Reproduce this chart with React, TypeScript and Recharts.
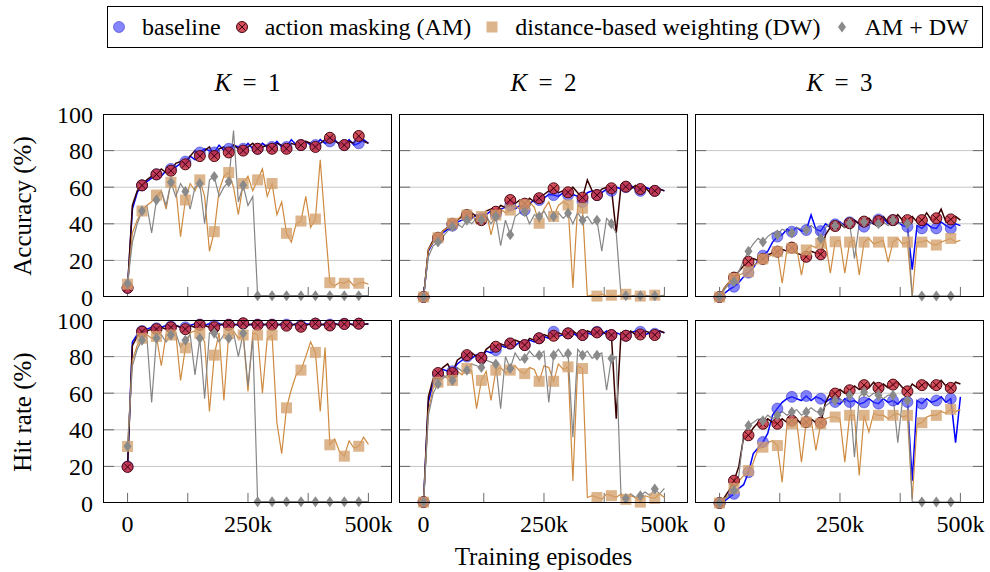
import React from 'react'
import { LineChart, Line, XAxis, YAxis, ReferenceLine } from 'recharts'

const FONT = '"Liberation Serif", Tinos, "Times New Roman", "Nimbus Roman", "DejaVu Serif", serif'

// x grid: one sample every 10k episodes, marks every 30k
const episodes = Array.from({ length: 51 }, (_, i) => i * 10000)
const MARK_EVERY = 3
const LAST_MARK = 48
const xLabelTicks = [0, 250000, 500000]
const xTickMarks = [0, 125000, 250000, 375000, 500000]
const yTicks = [0, 20, 40, 60, 80, 100]
const yGrid = [20, 40, 60, 80]
const kValues = [1, 2, 3]
const rowLabels = ['Accuracy (%)', 'Hit rate (%)']

// ---- accuracy, K = 1
const acc1Base = [5, 48, 57, 61, 63, 65, 67, 66, 69, 70, 71, 73, 74, 77, 75, 79, 81, 80, 79, 83, 80, 81, 83, 82, 81, 84, 81, 81, 84, 82, 82, 85, 82, 82, 86, 83, 83, 85, 83, 83, 86, 84, 85, 86, 83, 83, 86, 83, 84, 86, 84]
const acc1AM = [5, 50, 58, 61, 64, 66, 67, 70, 68, 69, 73, 74, 72.5, 77, 80, 77, 80, 82, 77, 81, 82, 79, 83, 81, 80, 82, 84, 81, 82, 83, 81, 84, 83, 81, 84, 83, 83, 85, 84, 82, 84, 86, 87, 85, 84, 83, 85, 84, 88, 85, 84]
const acc1DW = [7, 35, 42, 47, 50, 52, 55.7, 58, 48, 62.7, 60, 33, 53, 62, 58, 64, 55, 25, 35.7, 58, 66, 68, 60, 45, 62, 66, 58, 64, 70, 55, 62, 45, 52, 34.8, 30, 40, 41.5, 55, 38, 42.6, 75, 40, 7.8, 6, 8, 7.5, 9, 6, 7.5, 8, 7]
const acc1Both = [7.5, 30, 40, 47, 50, 35, 53, 58, 50, 62.7, 55, 62, 57.6, 48, 60, 62, 40, 64, 65.8, 55, 60, 63, 91, 52, 61, 50, 55, 0.7, 0.7, 0.7, 0.7, 0.7, 0.7, 0.7, 0.7, 0.7, 0.7, 0.7, 0.7, 0.7, 0.7, 0.7, 0.7, 0.7, 0.7, 0.7, 0.7, 0.7, 0.7, 0.7, 0.7]

// ---- accuracy, K = 2
const acc2Base = [0, 25, 30, 32, 35, 37, 39, 41, 42, 44, 43, 45, 43, 45, 47, 45, 48, 49, 50, 48, 50, 47.5, 51, 53, 53, 54, 56, 55.7, 55, 57, 55.7, 56, 55, 52, 57, 58, 55.7, 57, 59, 58, 60, 59, 60, 61, 59, 58, 60, 59, 58, 59, 58]
const acc2AM = [0, 26, 31, 32.4, 36, 38, 40, 42, 44, 44.8, 46, 44, 42, 47, 48, 46.6, 50, 49, 53, 51, 53, 51, 54, 52, 54, 56, 58, 59.4, 57, 58, 57.2, 60, 57, 54.3, 64, 58, 55.7, 59, 60, 59.4, 35, 61, 60.3, 59, 61, 59, 60, 57, 58, 59, 58]
const acc2DW = [0, 26, 30, 32.4, 36, 38, 40.3, 42, 45, 44.8, 46, 40, 44, 47, 34, 44.8, 48, 46, 47.5, 50, 48, 50.3, 52, 49, 40.3, 48, 52, 44, 50, 52, 50.3, 5, 50, 48.5, 0.5, 1, 0.5, 1.5, 0.5, 1, 0.5, 1, 1.5, 0.5, 1, 0.5, 1, 0.5, 1, 0.5, 1]
const acc2Both = [0, 22, 28, 30, 33, 36, 38.4, 40, 38, 42, 40, 43, 42, 44, 40, 44, 28, 42, 34, 44, 46, 46.6, 40, 45, 44, 47, 42, 44, 46, 43, 45.7, 40, 46, 42, 44, 40, 42, 25, 43, 40, 35, 0.7, 0.7, 0.7, 0.7, 0.7, 0.7, 0.7, 0.7, 0.7, 0.7]

// ---- accuracy, K = 3
const acc3Base = [0, 2, 4, 5.6, 8, 11, 13.3, 16, 20, 22.6, 25, 30, 33, 34, 37, 35.7, 38, 36, 36.6, 44.8, 37, 36, 40, 38, 39.7, 41, 39, 40.8, 42, 40, 38.4, 41, 40, 42.4, 43, 40, 42, 41, 39, 38.4, 15, 39, 37.5, 40, 38, 37.5, 41, 39, 37.5, 40, 39]
const acc3AM = [0, 5, 8, 10.6, 14, 17, 19.3, 21, 20, 20.8, 23, 24, 24.8, 26, 25, 27, 24, 23, 22, 25, 24, 23.3, 34, 38, 38.8, 40, 38, 40.3, 42, 40, 41.2, 43, 40, 41.5, 44, 41, 42, 45, 42, 42, 44, 41, 42, 46, 42, 43, 48, 41, 42.4, 44, 42]
const acc3DW = [0, 5, 8, 10.2, 12, 13, 13.8, 17, 19, 20.8, 22, 23, 24.8, 7.5, 26, 26.6, 27, 12, 25.7, 28, 27, 29.3, 30, 13, 30.2, 31, 13, 30, 31, 12, 30, 32, 29, 30, 31, 19, 30, 32, 29, 30, 0, 30, 30, 31, 29, 28.4, 30, 31, 32, 30, 31]
const acc3Both = [0, 4, 7, 8.4, 14, 20, 25, 29, 32, 30, 33, 35, 34, 37, 36, 35, 38, 37, 36.6, 39, 37, 32, 38, 40, 39, 41, 38, 40.3, 21, 40, 41, 39, 42, 40, 41, 39, 42, 40, 41, 40, 0.5, 0.5, 0.5, 0.5, 0.5, 0.5, 0.5, 0.5, 0.5, 0.5, 0.5]

// ---- hit rate, K = 1
const hit1Base = [20, 88, 92, 94, 95, 96, 95.5, 96, 97, 96.5, 97, 96, 96, 97, 98, 97.5, 97, 98, 97, 98, 97, 97.5, 98, 97, 98, 98, 97, 97.5, 98, 97, 97.5, 98, 97, 97.5, 98, 97, 97, 98, 97.5, 98, 98, 97, 97.5, 98, 97.5, 98, 98, 97.5, 98, 97.5, 98]
const hit1AM = [19.7, 86, 91, 93.6, 94, 95, 95, 96, 95, 96, 97, 96, 95, 97, 96, 97.3, 97, 96, 96, 97, 98, 97.3, 97, 98, 98.2, 97, 98, 97.3, 97, 98, 97.3, 97, 98, 96.9, 97, 98, 96.3, 97, 98, 98, 97, 98, 97, 98, 97, 97.8, 98, 97, 98, 97.5, 98]
const hit1DW = [30.9, 78, 86, 90, 92, 90, 91, 75, 92, 91.8, 93, 67, 84.8, 93, 94, 92.7, 88, 50, 80.8, 93, 56, 92.7, 94, 90, 91.8, 61, 93, 91.8, 60, 90, 91.8, 44, 27, 52, 62, 70, 72.6, 80, 88, 82.3, 50, 85, 31.8, 35, 28, 25.6, 34, 30, 31, 36, 32]
const hit1Both = [31, 75, 84, 89, 91, 55, 90, 92, 88, 91.8, 93, 85, 89, 92, 70, 90, 57, 93, 92.7, 88, 92, 90, 93, 80, 92.7, 64, 90, 0.7, 0.7, 0.7, 0.7, 0.7, 0.7, 0.7, 0.7, 0.7, 0.7, 0.7, 0.7, 0.7, 0.7, 0.7, 0.7, 0.7, 0.7, 0.7, 0.7, 0.7, 0.7, 0.7, 0.7]

// ---- hit rate, K = 2
const hit2Base = [0.5, 55, 66, 70, 73, 72, 72, 76, 78, 80, 79, 81, 79.3, 83, 82, 83.5, 86, 85, 87, 86, 88, 86.3, 89, 88, 90, 91, 90, 93.6, 91, 92, 92.7, 93, 91, 91.8, 93, 92, 93.6, 92, 94, 91.8, 93, 92, 91.4, 93, 94, 93.6, 92, 93, 92.5, 94, 93]
const hit2AM = [0.5, 58, 68, 71, 74, 76, 71, 78, 80, 80.8, 82, 80, 79.3, 84, 86, 85.4, 87, 86, 87.2, 89, 88, 86.3, 90, 89, 90, 92, 91, 91.4, 93, 92, 92.7, 94, 92, 91.8, 94, 93, 93.2, 94, 92, 91.8, 46, 93, 91.4, 94, 92, 92.1, 94, 93, 91.8, 94, 93]
const hit2DW = [0.5, 50, 63, 66, 70, 68, 67, 72, 70, 73.5, 72, 51.6, 67, 72, 56, 72.6, 74, 71, 72.6, 75, 72, 70.7, 74, 73, 66.5, 75, 74, 66.5, 76, 73, 74.4, 12, 75, 73.5, 3, 4, 3, 2, 5, 4, 3, 5, 2, 4, 3, 0.5, 4, 3, 2.5, 5, 3]
const hit2Both = [0.5, 48, 60, 65, 68, 70, 67, 74, 72, 72.6, 76, 75, 74, 78, 77, 76, 51.6, 80, 73.5, 82, 78, 79, 83, 80, 80.8, 83, 55, 80.8, 84, 80, 81.7, 36, 84, 80.8, 83, 79, 80.8, 82, 61.6, 79, 80, 3, 2.5, 5, 3, 4, 6, 4, 7.7, 5, 8]

// ---- hit rate, K = 3
const hit3Base = [0, 1, 3, 5, 8, 10, 16.8, 27, 30, 33.3, 38, 48, 51.6, 55, 57, 58, 57, 56, 58.5, 56, 58, 57, 55, 57, 55.2, 54, 57, 55.2, 56, 54, 55, 57, 55, 54.3, 57, 55, 56, 54, 57, 55.2, 12.2, 56, 54.3, 57, 55, 56, 58, 55, 57, 33, 58]
const hit3AM = [0, 3, 7, 12.2, 20, 36, 37, 41, 44, 43.3, 46, 44, 43.3, 46, 44, 45, 46, 43, 44.2, 46, 44, 43.9, 55, 60, 59.8, 62, 60, 61.6, 64, 62, 64.4, 63, 66, 62.9, 65, 63, 64.7, 66, 63, 61, 65, 63, 64.4, 66, 63, 64.4, 67, 64, 62.9, 66, 65]
const hit3DW = [0, 2, 5, 8, 12, 15, 17.7, 22, 29.6, 30.5, 33, 34, 31.4, 11.3, 43, 43.3, 45, 22.3, 44.2, 46, 28.7, 43.3, 46, 47, 47, 46, 22.3, 47.9, 48, 15, 47.9, 38.8, 49, 47.9, 48, 46, 47.9, 49, 47, 47.9, 2.2, 43, 43.9, 47, 48, 47.9, 50, 49, 51.2, 50, 51]
const hit3Both = [0, 2, 4, 6.8, 15, 37.8, 42.4, 44, 46, 45, 48, 46, 47.9, 50, 48, 49.7, 51, 48, 49.7, 52, 50, 49.7, 53, 55, 56, 57, 55, 58.9, 25, 58, 60.7, 58, 60, 58.9, 57, 59, 58.9, 33, 57, 56, 0.5, 0.5, 0.5, 0.5, 0.5, 0.5, 0.5, 0.5, 0.5, 0.5, 0.5]

// layout of the six plot boxes
const PLOT_LEFT = [103, 399, 695]
const PLOT_TOP = [114, 320]
const PLOT_W = 289
const PLOT_H = 183
const X_DOMAIN: [number, number] = [-51000, 549000]
const Y_TICK_LEN = 23000 // ~11px in episodes
const X_TICK_LEN = 5.5 // ~10px in percent
const PAD = 15

type MarkProps = { cx: number; cy: number }

const BaseMark = ({ cx, cy }: MarkProps) => (
  <circle cx={cx} cy={cy} r={5.5} fill="#3434ff" fillOpacity={0.6} stroke="#2020c0" strokeOpacity={0.5} />
)
const AmMark = ({ cx, cy }: MarkProps) => (
  <g>
    <circle cx={cx} cy={cy} r={5.5} fill="#cc3040" fillOpacity={0.85} stroke="#4a0812" strokeWidth={1} />
    <path
      d={`M${cx - 3.6},${cy - 3.6}L${cx + 3.6},${cy + 3.6}M${cx - 3.6},${cy + 3.6}L${cx + 3.6},${cy - 3.6}`}
      stroke="#3a0610"
      strokeWidth={1}
    />
  </g>
)
const DwMark = ({ cx, cy }: MarkProps) => (
  <rect x={cx - 5.5} y={cy - 5.5} width={11} height={11} fill="#d3a06c" fillOpacity={0.78} />
)
const BothMark = ({ cx, cy }: MarkProps) => (
  <polygon points={`${cx},${cy - 5.5} ${cx + 4},${cy} ${cx},${cy + 5.5} ${cx - 4},${cy}`} fill="#8a8a8a" />
)

const SERIES = [
  { key: 'base', name: 'baseline', color: '#0000ff', width: 1.5, Mark: BaseMark },
  { key: 'am', name: 'action masking (AM)', color: '#3a0000', width: 1.5, Mark: AmMark },
  { key: 'dw', name: 'distance-based weighting (DW)', color: '#cf8a3f', width: 1.2, Mark: DwMark },
  { key: 'both', name: 'AM + DW', color: '#858585', width: 1.2, Mark: BothMark },
]

const PANELS = [
  { row: 0, col: 0, values: [acc1Base, acc1AM, acc1DW, acc1Both] },
  { row: 0, col: 1, values: [acc2Base, acc2AM, acc2DW, acc2Both] },
  { row: 0, col: 2, values: [acc3Base, acc3AM, acc3DW, acc3Both] },
  { row: 1, col: 0, values: [hit1Base, hit1AM, hit1DW, hit1Both] },
  { row: 1, col: 1, values: [hit2Base, hit2AM, hit2DW, hit2Both] },
  { row: 1, col: 2, values: [hit3Base, hit3AM, hit3DW, hit3Both] },
]

const fmtEp = (v: number) => (v === 0 ? '0' : `${v / 1000}k`)

const Panel = ({ row, col, values }: { row: number; col: number; values: number[][] }) => {
  const showY = col === 0
  const showX = row === 1
  const ml = showY ? 80 : PAD
  const mb = showX ? 45 : PAD
  const data = episodes.map((ep, i) => ({
    ep,
    base: values[0][i],
    am: values[1][i],
    dw: values[2][i],
    both: values[3][i],
  }))
  const tickStyle = { fontFamily: FONT, fontSize: 24, fill: '#000' }
  return (
    <div style={{ position: 'absolute', left: PLOT_LEFT[col] - ml, top: PLOT_TOP[row] - PAD }}>
      <LineChart
        width={PLOT_W + ml + PAD}
        height={PLOT_H + PAD + mb}
        data={data}
        margin={{ top: PAD, right: PAD, bottom: showX ? 5 : PAD, left: showY ? 20 : PAD }}
      >
        <XAxis
          type="number"
          dataKey="ep"
          domain={X_DOMAIN}
          ticks={xLabelTicks}
          interval={0}
          hide={!showX}
          height={40}
          tickSize={0}
          tickMargin={12}
          axisLine={false}
          tickLine={false}
          tickFormatter={fmtEp}
          tick={tickStyle}
        />
        <YAxis
          type="number"
          domain={[0, 100]}
          ticks={yTicks}
          interval={0}
          hide={!showY}
          width={60}
          tickSize={0}
          tickMargin={10}
          axisLine={false}
          tickLine={false}
          tick={tickStyle}
        />
        {yGrid.map((v) => (
          <ReferenceLine key={`g${v}`} y={v} stroke="#c6c6c6" strokeWidth={1} />
        ))}
        {yGrid.map((v) => (
          <ReferenceLine
            key={`tl${v}`}
            segment={[{ x: X_DOMAIN[0], y: v }, { x: X_DOMAIN[0] + Y_TICK_LEN, y: v }]}
            stroke="#6a6a6a"
          />
        ))}
        {yGrid.map((v) => (
          <ReferenceLine
            key={`tr${v}`}
            segment={[{ x: X_DOMAIN[1] - Y_TICK_LEN, y: v }, { x: X_DOMAIN[1], y: v }]}
            stroke="#6a6a6a"
          />
        ))}
        {xTickMarks.map((t) => (
          <ReferenceLine key={`xt${t}`} segment={[{ x: t, y: 0 }, { x: t, y: X_TICK_LEN }]} stroke="#6a6a6a" />
        ))}
        {SERIES.map((s) => (
          <Line
            key={s.key}
            type="linear"
            dataKey={s.key}
            stroke={s.color}
            strokeWidth={s.width}
            activeDot={false}
            isAnimationActive={false}
            dot={(p: any) =>
              p.index % MARK_EVERY === 0 && p.index <= LAST_MARK ? (
                <s.Mark key={`m${p.index}`} cx={p.cx} cy={p.cy} />
              ) : (
                <g key={`m${p.index}`} />
              )
            }
          />
        ))}
      </LineChart>
      <div
        style={{
          position: 'absolute',
          left: ml,
          top: PAD,
          width: PLOT_W,
          height: PLOT_H,
          border: '1px solid #000',
          boxSizing: 'border-box',
          pointerEvents: 'none',
        }}
      />
    </div>
  )
}

const LegendIcon = ({ Mark }: { Mark: (p: MarkProps) => React.ReactElement }) => (
  <svg width={12} height={14} style={{ flex: 'none' }}>
    <Mark cx={6} cy={7} />
  </svg>
)

const App = () => {
  return (
    <div
      style={{
        position: 'absolute',
        left: 0,
        top: 0,
        width: 990,
        height: 572,
        background: '#fff',
        fontFamily: FONT,
        color: '#000',
        overflow: 'hidden',
      }}
    >
      {/* legend */}
      <div
        style={{
          position: 'absolute',
          left: 107,
          top: 6,
          width: 876,
          height: 42,
          border: '1px solid #000',
          boxSizing: 'border-box',
          display: 'flex',
          alignItems: 'center',
          paddingLeft: 5,
          fontSize: 24,
          whiteSpace: 'nowrap',
        }}
      >
        {SERIES.map((s, i) => (
          <div key={s.key} style={{ display: 'flex', alignItems: 'center', marginLeft: i === 0 ? 0 : 15 }}>
            <LegendIcon Mark={s.Mark} />
            <span style={{ marginLeft: 17 }}>{s.name}</span>
          </div>
        ))}
      </div>

      {/* column titles */}
      {kValues.map((k, c) => (
        <div
          key={`k${k}`}
          style={{
            position: 'absolute',
            left: PLOT_LEFT[c] + PLOT_W / 2,
            top: 83,
            transform: 'translate(-50%, -50%)',
            fontSize: 25,
            whiteSpace: 'nowrap',
          }}
        >
          <span style={{ fontStyle: 'italic' }}>K</span>
          <span style={{ margin: '0 0.45em' }}>=</span>
          <span>{k}</span>
        </div>
      ))}

      {/* row labels */}
      {rowLabels.map((t, r) => (
        <div
          key={t}
          style={{
            position: 'absolute',
            left: 23,
            top: PLOT_TOP[r] + PLOT_H / 2,
            transform: 'translate(-50%, -50%) rotate(-90deg)',
            fontSize: 25,
            whiteSpace: 'nowrap',
          }}
        >
          {t}
        </div>
      ))}

      {PANELS.map((p) => (
        <Panel key={`${p.row}-${p.col}`} row={p.row} col={p.col} values={p.values} />
      ))}

      <div
        style={{
          position: 'absolute',
          left: PLOT_LEFT[1] + PLOT_W / 2,
          top: 557,
          transform: 'translate(-50%, -50%)',
          fontSize: 25,
          whiteSpace: 'nowrap',
        }}
      >
        Training episodes
      </div>
    </div>
  )
}

export default App
